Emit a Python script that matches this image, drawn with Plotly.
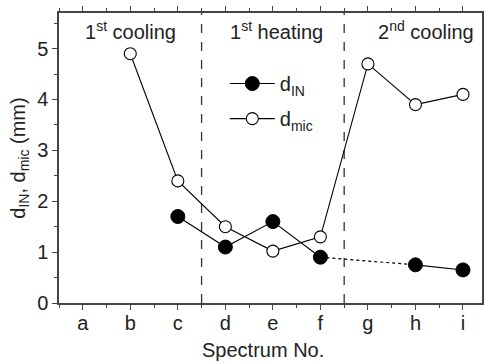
import plotly.graph_objects as go

categories = ["a", "b", "c", "d", "e", "f", "g", "h", "i"]
d_in = [None, None, 1.7, 1.1, 1.6, 0.9, None, 0.75, 0.65]
d_mic = [None, 4.9, 2.4, 1.5, 1.02, 1.3, 4.7, 3.9, 4.1]
stage_labels = ["1<sup>st</sup> cooling", "1<sup>st</sup> heating", "2<sup>nd</sup> cooling"]
stage_x = [1.0, 4.08, 7.22]
stage_bounds = [2.5, 5.5]

xs = list(range(len(categories)))
FONT = "Liberation Sans, Arial, sans-serif"
AX = "#444"

fig = go.Figure()

# dotted connector across the missing g point of d_IN (f -> h)
fi, hi = categories.index("f"), categories.index("h")
fig.add_trace(go.Scatter(x=[xs[fi], xs[hi]], y=[d_in[fi], d_in[hi]], mode="lines",
                         line=dict(color="black", width=1.2, dash="dot"),
                         showlegend=False, hoverinfo="skip"))

fig.add_trace(go.Scatter(x=xs, y=d_in, mode="lines+markers", name="d<sub>IN</sub>",
                         connectgaps=False, legend="legend",
                         line=dict(color="black", width=1.1),
                         marker=dict(symbol="circle", size=14, color="black",
                                     line=dict(color="black", width=1))))
fig.add_trace(go.Scatter(x=xs, y=d_mic, mode="lines+markers", name="d<sub>mic</sub>",
                         connectgaps=False, legend="legend2",
                         line=dict(color="black", width=1.1),
                         marker=dict(symbol="circle", size=12, color="white",
                                     line=dict(color="black", width=1.1))))

for b in stage_bounds:
    fig.add_shape(type="line", xref="x", yref="paper", x0=b, x1=b, y0=0, y1=1,
                  line=dict(color="#333", width=1.3, dash="dash"), layer="below")

for t, x in zip(stage_labels, stage_x):
    fig.add_annotation(x=x, y=5.36, xref="x", yref="y", text=t, showarrow=False,
                       font=dict(family=FONT, size=20, color="#222"))

# x-axis title (slightly left of centre, as in the reference)
fig.add_annotation(x=0.4816, y=-0.162, xref="paper", yref="paper", text="Spectrum No.",
                   showarrow=False, xanchor="center", yanchor="middle",
                   font=dict(family=FONT, size=20, color="#222"))

leg_common = dict(xanchor="left", yanchor="top", bgcolor="rgba(0,0,0,0)",
                  font=dict(size=20), itemwidth=45)
fig.update_layout(
    width=484, height=363,
    margin=dict(l=59, r=2, t=13, b=60),
    paper_bgcolor="white", plot_bgcolor="white",
    font=dict(family=FONT, size=20, color="#222"),
    showlegend=True,
    legend=dict(x=0.392, y=0.824, **leg_common),
    legend2=dict(x=0.392, y=0.703, **leg_common),
)
fig.update_xaxes(
    range=[-0.5, 8.4], tickmode="array", tickvals=xs, ticktext=categories,
    showline=True, linecolor=AX, linewidth=1.5, mirror="ticks",
    ticks="outside", ticklen=5, tickcolor=AX, tickwidth=1,
    minor=dict(tickmode="linear", tick0=-0.5, dtick=1, ticks="outside", ticklen=3,
               tickcolor=AX, showgrid=False),
    showgrid=False, zeroline=False, automargin=False,
    ticklabelstandoff=-4,
    tickfont=dict(size=20),
)
fig.update_yaxes(
    range=[0, 5.7], tickmode="linear", tick0=0, dtick=1,
    showline=True, linecolor=AX, linewidth=1.5, mirror="ticks",
    ticks="outside", ticklen=5, tickcolor=AX, tickwidth=1,
    minor=dict(tickmode="linear", tick0=0, dtick=0.5, ticks="outside", ticklen=3,
               tickcolor=AX, showgrid=False),
    showgrid=False, zeroline=False, automargin=False,
    title=dict(text="d<sub>IN</sub>, d<sub>mic</sub> (mm)", font=dict(size=20), standoff=6),
    tickfont=dict(size=20),
)

fig.write_html("out.html")
